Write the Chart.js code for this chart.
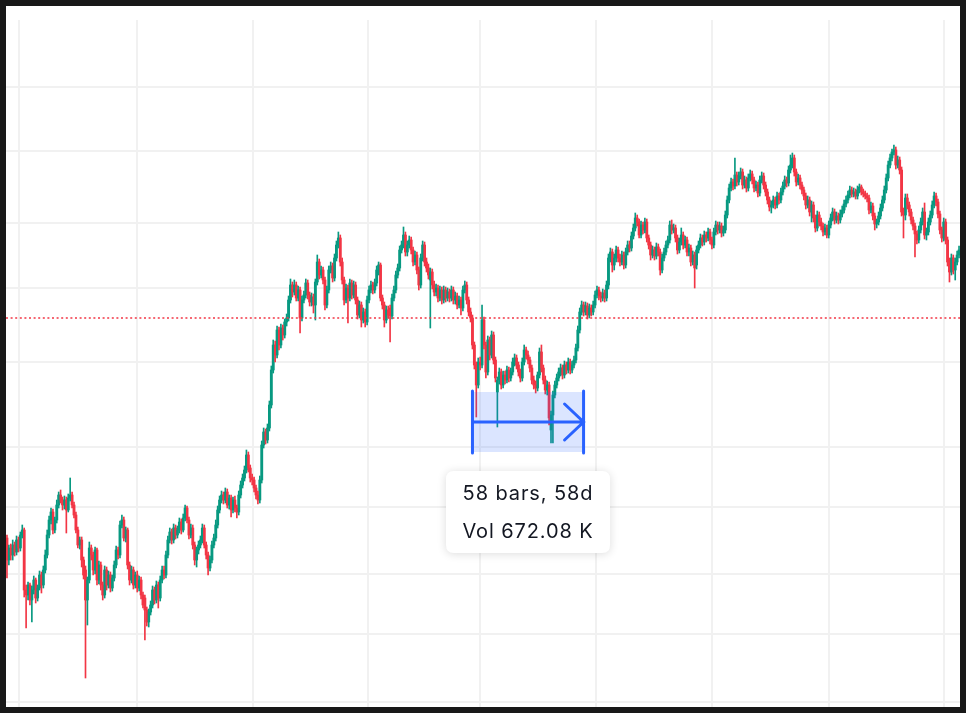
<!DOCTYPE html>
<html>
<head>
<meta charset="utf-8">
<script src="https://cdn.jsdelivr.net/npm/chart.js@4.4.1/dist/chart.umd.min.js"></script>
<style>
  html, body { margin: 0; padding: 0; background: #181818; }
  #frame { position: absolute; left: 6px; top: 6px; width: 954px; height: 701px; background: #ffffff; }
  canvas { display: block; }
</style>
</head>
<body>
<div id="frame"><canvas id="candles" width="954" height="701"></canvas></div>
<script>
// daily candles, one row = 10 bars
var opens = [
  162,140,152,145,155,148,160,152,165,170,
  110,105,115,100,110,120,102,112,125,115,
  130,145,165,180,188,170,180,195,205,200,
  195,200,190,202,205,195,185,170,155,160,
  140,130,100,120,152,145,130,150,120,135,
  115,105,130,115,125,112,122,135,150,145,
  175,180,162,170,135,120,130,115,125,112,
  120,105,102,90,78,88,95,110,100,115,
  102,120,130,125,145,160,168,160,172,165,
  170,178,170,182,192,180,165,172,155,140,
  150,155,160,172,155,145,132,140,155,162,
  175,190,200,205,200,208,195,202,190,200,
  192,188,205,215,222,230,245,232,222,220,
  212,205,200,220,255,268,260,272,295,330,
  355,345,370,355,372,365,378,382,400,415,
  408,415,402,410,382,400,405,417,405,398,
  403,395,418,438,425,430,420,395,410,430,
  434,422,442,455,462,438,420,400,412,402,
  417,405,415,400,385,395,380,388,378,400,
  410,415,410,417,428,435,402,395,380,390,
  392,384,402,410,425,432,450,455,465,448,
  455,460,450,438,445,430,415,442,455,438,
  432,420,428,415,408,412,402,410,400,410,
  402,408,402,410,400,404,395,400,392,410,
  415,400,388,382,355,335,315,338,335,380,
  355,328,360,345,365,340,308,320,328,315,
  325,320,330,322,328,338,342,335,328,322,
  338,350,345,340,332,320,315,312,325,348,
  332,320,310,315,270,285,305,315,322,328,
  332,325,335,330,338,330,335,340,352,370,
  388,395,388,394,385,392,388,395,405,410,
  404,402,407,402,415,442,448,435,442,450,
  442,438,445,435,448,455,452,464,472,482,
  478,465,475,470,478,462,455,445,450,444,
  453,448,430,442,448,455,460,475,470,472,
  462,450,458,465,455,460,448,452,438,445,
  435,450,455,462,458,465,462,468,460,455,
  468,475,470,474,467,470,485,500,512,518,
  514,525,518,524,528,515,520,512,522,526,
  520,512,515,507,520,524,515,508,500,493,
  495,500,495,504,500,508,514,520,517,530,
  535,542,528,518,522,515,510,504,495,500,
  488,495,482,472,485,478,474,468,472,465,
  475,482,488,480,484,480,486,490,496,500,
  505,510,506,508,504,510,513,508,506,504,
  502,490,494,484,476,478,484,492,500,510,
  522,535,542,548,550,535,540,530,488,485,
  502,495,488,480,474,466,460,470,478,488,
  465,468,478,485,495,504,498,486,470,462,
  478,460,438,428,442,430,438,445
];

var highs = [
  165,155,156,160,158,164,163,168,175,172,
  115,118,117,114,124,122,115,129,128,134,
  150,170,184,192,191,183,200,208,210,203,
  204,203,206,222,208,198,188,173,163,163,
  143,134,123,158,155,148,153,152,139,138,
  118,134,133,129,128,125,139,154,153,179,
  185,183,173,172,138,134,133,128,129,124,
  123,108,105,93,91,99,114,113,119,118,
  124,134,134,149,164,172,171,176,175,174,
  182,181,186,195,194,183,176,175,158,153,
  159,164,176,175,158,148,144,159,166,180,
  194,204,209,208,212,211,205,205,203,204,
  195,209,219,226,234,250,248,235,226,223,
  215,209,224,259,272,271,276,299,334,360,
  359,374,373,376,375,381,386,404,421,418,
  420,418,414,413,404,409,421,420,408,407,
  406,421,445,441,434,433,423,414,434,438,
  437,446,459,468,465,442,423,416,415,421,
  420,419,418,403,399,398,392,391,404,414,
  419,418,421,434,438,437,405,398,394,394,
  395,406,414,429,436,454,459,473,468,459,
  464,463,453,449,448,433,446,459,458,442,
  436,432,431,419,416,415,414,413,414,413,
  412,411,414,413,408,407,404,403,414,419,
  418,403,392,385,358,338,342,343,395,383,
  358,364,363,369,368,343,323,332,331,329,
  329,334,333,332,342,346,345,338,331,342,
  355,353,349,343,335,324,319,328,352,355,
  335,324,319,318,289,309,319,326,332,336,
  335,339,338,342,341,339,344,356,374,392,
  399,398,398,397,396,395,399,409,414,413,
  408,411,410,419,446,452,451,446,454,453,
  446,449,448,452,459,459,468,476,487,485,
  481,479,478,482,481,465,458,454,453,457,
  456,451,446,452,459,464,479,480,476,475,
  465,462,472,468,464,463,456,455,449,448,
  454,459,466,465,469,468,472,471,463,472,
  479,478,478,477,474,489,504,516,522,521,
  542,528,528,532,531,524,523,526,530,529,
  523,519,518,524,528,527,518,511,503,499,
  504,503,508,507,512,518,524,523,534,545,
  547,545,531,526,525,518,513,507,504,503,
  499,498,485,489,488,482,477,476,475,479,
  486,492,491,488,487,490,494,500,504,509,
  514,513,512,511,514,516,515,511,509,507,
  505,498,497,487,481,488,496,504,514,526,
  539,546,551,555,553,544,543,533,492,506,
  506,498,491,483,477,469,474,482,492,497,
  472,482,489,499,508,507,501,489,473,482,
  481,463,442,446,445,442,449,454
];

var lows = [
  122,135,140,140,144,145,148,149,162,103,
  72,100,95,78,106,97,99,110,107,112,
  127,142,162,176,166,167,177,192,197,190,
  191,167,188,199,192,182,167,152,151,133,
  121,22,75,117,140,125,126,115,116,110,
  100,102,110,112,108,109,119,132,141,142,
  172,159,158,131,115,117,111,112,108,109,
  101,92,60,74,73,85,92,96,97,92,
  99,117,121,122,142,157,156,157,161,162,
  167,166,168,179,177,161,162,151,135,133,
  146,152,157,152,141,125,129,137,152,159,
  172,187,197,196,197,192,191,183,187,188,
  182,185,202,212,219,227,228,218,215,208,
  201,196,197,217,252,256,257,269,292,327,
  338,342,350,352,360,362,374,379,397,403,
  405,399,399,367,379,397,402,401,394,394,
  387,380,415,421,422,416,390,392,407,427,
  418,419,439,452,434,416,395,397,377,399,
  401,402,396,381,382,373,377,373,375,397,
  407,406,407,414,425,399,391,373,377,382,
  358,381,399,407,422,429,447,452,444,444,
  452,446,434,435,426,410,412,439,434,428,
  421,372,411,404,404,398,399,396,397,398,
  399,398,399,396,396,391,392,385,389,407,
  396,384,378,351,331,283,312,330,332,351,
  322,325,340,342,336,318,273,316,311,312,
  316,317,318,319,325,334,331,324,318,319,
  335,341,336,328,316,311,307,309,322,328,
  316,306,305,275,257,257,302,312,319,324,
  321,322,326,327,326,327,332,337,349,367,
  385,384,385,381,382,384,385,392,402,400,
  398,399,398,399,411,438,428,430,438,438,
  434,435,431,432,445,448,449,461,469,474,
  462,462,466,467,458,451,440,442,440,441,
  444,425,427,439,445,452,457,466,467,458,
  446,447,455,451,452,444,444,434,435,412,
  431,447,452,454,455,458,459,456,451,452,
  465,466,467,463,464,467,482,497,509,510,
  511,514,515,521,511,512,508,509,519,516,
  508,509,503,504,517,511,504,496,489,487,
  492,491,492,496,497,505,511,513,514,527,
  532,524,514,515,511,506,500,491,492,484,
  478,478,468,469,474,470,464,465,462,462,
  472,479,476,477,476,477,483,487,493,497,
  502,503,503,501,501,507,505,503,501,498,
  486,487,480,470,472,475,481,489,497,507,
  519,532,539,545,531,532,526,484,462,480,
  491,484,476,470,443,456,457,467,475,461,
  460,465,475,482,492,494,482,466,458,459,
  456,434,418,425,426,420,435,442
];

var closes = [
  140,152,145,155,148,160,152,165,170,110,
  105,115,100,110,120,102,112,125,115,130,
  145,165,180,188,170,180,195,205,200,195,
  200,190,202,205,195,185,170,155,160,140,
  125,100,120,152,145,130,150,120,135,115,
  105,130,115,125,112,122,135,150,145,175,
  180,162,170,135,120,130,115,125,112,120,
  105,95,90,78,88,95,110,100,115,102,
  120,130,125,145,160,168,160,172,165,170,
  178,170,182,192,180,165,172,155,140,150,
  155,160,172,155,145,132,140,155,162,175,
  190,200,205,200,208,195,202,190,200,192,
  188,205,215,222,230,245,232,222,220,212,
  205,200,220,255,268,260,272,295,330,355,
  345,370,355,372,365,378,382,400,415,408,
  415,402,410,382,400,405,417,405,398,403,
  395,418,438,425,430,420,395,410,430,434,
  422,442,455,462,438,420,400,412,402,417,
  405,415,400,385,395,380,388,378,400,410,
  415,410,417,430,435,402,395,380,390,385,
  384,402,410,425,432,450,455,465,448,455,
  460,450,438,445,430,415,442,455,438,432,
  425,428,415,408,412,402,410,400,410,402,
  408,402,410,400,404,395,400,392,410,415,
  400,388,382,355,335,315,338,335,380,355,
  328,360,345,365,340,322,320,328,315,325,
  320,330,322,328,338,342,335,328,322,338,
  350,345,340,332,320,315,312,325,348,332,
  320,310,315,282,285,305,315,322,328,332,
  325,335,330,338,330,335,340,352,370,388,
  395,388,394,385,392,388,395,405,410,404,
  402,407,402,415,442,448,435,442,450,442,
  438,445,435,448,455,452,464,472,482,478,
  465,475,470,478,462,455,445,450,444,453,
  448,430,442,448,455,460,475,470,472,462,
  450,458,465,455,460,448,452,438,445,432,
  450,455,462,458,465,462,468,460,455,468,
  475,470,474,467,470,485,500,512,518,514,
  525,518,524,528,515,520,512,522,526,520,
  512,515,507,520,524,515,508,500,493,495,
  500,495,504,500,508,514,520,517,530,535,
  542,528,518,522,515,510,504,495,500,488,
  495,482,472,485,478,474,468,472,465,475,
  482,488,480,484,480,486,490,496,500,505,
  510,506,508,504,510,513,508,506,504,502,
  490,494,484,476,478,484,492,500,510,522,
  535,542,548,550,535,540,530,488,485,502,
  495,488,480,474,466,460,470,478,488,465,
  468,478,485,495,504,498,486,470,462,478,
  460,438,428,442,430,438,445,450
];

// grid positions (bar index / price) - no labels shown in the screenshot
var timeGrid = [6.3, 67.9, 128.4, 188.5, 247, 307.5, 368, 429.1, 489.1];
var priceGrid = [613, 549, 477, 412, 338, 253, 193, 126, 66, -2];

var priceLine = 382;

// measure tool
var measureFrom = 243;
var measureTo = 301;
var measureTop = 308;
var measureBottom = 248;
var measureText = ["58 bars, 58d", "Vol 672.08 K"];

var GREEN = "#089981";
var RED = "#f23645";

var n = closes.length;
var colors = closes.map(function (c, i) {
  return c >= opens[i] ? GREEN : RED;
});
var wicks = closes.map(function (c, i) {
  return { x: i, y: [lows[i], highs[i]] };
});
var bodies = closes.map(function (c, i) {
  return { x: i, y: [opens[i], c] };
});

function roundRect(ctx, x, y, w, h, r) {
  ctx.beginPath();
  ctx.moveTo(x + r, y);
  ctx.lineTo(x + w - r, y);
  ctx.quadraticCurveTo(x + w, y, x + w, y + r);
  ctx.lineTo(x + w, y + h - r);
  ctx.quadraticCurveTo(x + w, y + h, x + w - r, y + h);
  ctx.lineTo(x + r, y + h);
  ctx.quadraticCurveTo(x, y + h, x, y + h - r);
  ctx.lineTo(x, y + r);
  ctx.quadraticCurveTo(x, y, x + r, y);
  ctx.closePath();
}

var overlays = {
  id: "overlays",
  afterDatasetsDraw: function (chart) {
    var ctx = chart.ctx;
    var xs = chart.scales.x;
    var ys = chart.scales.y;

    // last price line
    var py = Math.round(ys.getPixelForValue(priceLine));
    ctx.save();
    ctx.strokeStyle = RED;
    ctx.lineWidth = 1.6;
    ctx.setLineDash([2, 2.6]);
    ctx.beginPath();
    ctx.moveTo(0, py);
    ctx.lineTo(chart.width, py);
    ctx.stroke();
    ctx.restore();

    // measure box
    var x1 = xs.getPixelForValue(measureFrom);
    var x2 = xs.getPixelForValue(measureTo);
    var yT = ys.getPixelForValue(measureTop);
    var yB = ys.getPixelForValue(measureBottom);
    var yM = (yT + yB) / 2;
    ctx.save();
    ctx.fillStyle = "rgba(41, 98, 255, 0.17)";
    ctx.fillRect(x1, yT, x2 - x1, yB - yT);
    ctx.strokeStyle = "#2962ff";
    ctx.lineWidth = 3;
    ctx.lineCap = "round";
    ctx.beginPath();
    ctx.moveTo(x1, yT - 1);
    ctx.lineTo(x1, yB + 1);
    ctx.moveTo(x2, yT - 1);
    ctx.lineTo(x2, yB + 1);
    ctx.moveTo(x1, yM);
    ctx.lineTo(x2, yM);
    ctx.moveTo(x2 - 19, yM - 18);
    ctx.lineTo(x2, yM);
    ctx.lineTo(x2 - 19, yM + 18);
    ctx.stroke();
    ctx.restore();

    // info label
    var w = 164, h = 82;
    var bx = (x1 + x2) / 2 - w / 2;
    var by = yB + 19;
    ctx.save();
    ctx.shadowColor = "rgba(0, 0, 0, 0.14)";
    ctx.shadowBlur = 10;
    ctx.shadowOffsetY = 1;
    ctx.fillStyle = "#ffffff";
    roundRect(ctx, bx, by, w, h, 8);
    ctx.fill();
    ctx.restore();
    ctx.save();
    ctx.fillStyle = "#131722";
    ctx.font = '20px Inter, "Noto Sans", sans-serif';
    ctx.letterSpacing = "0.9px";
    ctx.textAlign = "center";
    ctx.textBaseline = "middle";
    ctx.fillText(measureText[0], bx + w / 2, by + 23);
    ctx.fillText(measureText[1], bx + w / 2, by + 61);
    ctx.restore();
  }
};

var ctx = document.getElementById("candles");
window.myChart = new Chart(ctx, {
  type: "bar",
  data: {
    datasets: [
      {
        label: "wick",
        data: wicks,
        backgroundColor: colors,
        barThickness: 1,
        grouped: false,
      },
      {
        label: "body",
        data: bodies,
        backgroundColor: colors,
        barThickness: 2.2,
        minBarLength: 1,
        grouped: false,
      },
    ],
  },
  options: {
    responsive: false,
    animation: false,
    layout: { padding: { top: 14, left: 0, right: 0, bottom: 0 } },
    plugins: {
      legend: { display: false },
      tooltip: { enabled: false },
    },
    scales: {
      x: {
        type: "linear",
        min: -0.5,
        max: n - 0.5,
        offset: false,
        afterBuildTicks: function (scale) {
          scale.ticks = timeGrid.map(function (v) { return { value: v }; });
        },
        ticks: { display: false },
        grid: { color: "#f1f1f1", lineWidth: 2, drawTicks: false, offset: false },
        border: { display: false },
      },
      y: {
        min: -7,
        max: 680,
        afterBuildTicks: function (scale) {
          scale.ticks = priceGrid.map(function (v) { return { value: v }; });
        },
        ticks: { display: false },
        grid: { color: "#f1f1f1", lineWidth: 2, drawTicks: false },
        border: { display: false },
      },
    },
  },
  plugins: [overlays],
});
</script>
</body>
</html>
